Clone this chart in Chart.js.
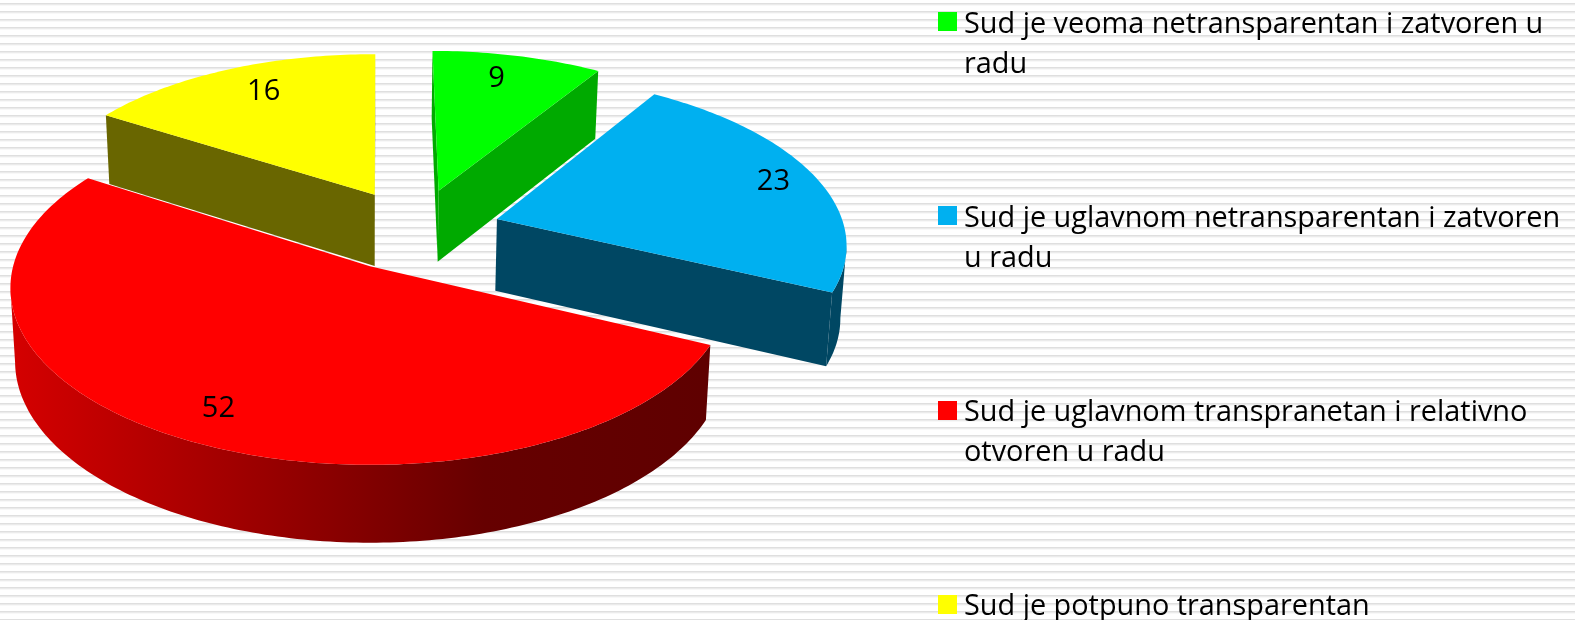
<!DOCTYPE html>
<html lang="sr">
<head>
  <meta charset="UTF-8" />
  <title>Transparentnost suda</title>
  <script src="https://cdn.jsdelivr.net/npm/chart.js"></script>
  <style>
    html, body {
      margin: 0;
      height: 100%;
      overflow: hidden;
      background-color: #fff;
      background-image: repeating-linear-gradient(to bottom,
        #fff 0, #fff 3px, #dfdfdf 3px, #dfdfdf 4px, #ebebeb 4px, #ebebeb 5px, #f8f8f8 5px, #f8f8f8 6px, #fff 6px, #fff 8px);
    }
    #pie { position: absolute; left: 0; top: 0; }
    .key { position: absolute; left: 938px; width: 19px; height: 19px; }
    .txt {
      position: absolute; left: 964px; white-space: nowrap;
      font-family: 'Open Sans', sans-serif; font-size: 28.85px; line-height: 40px; color: #000;
    }
  </style>
</head>
<body>
  <canvas id="pie" width="1575" height="620"></canvas>
  <div id="legend"></div>

  <script>
    const labels = [
      ['Sud je veoma netransparentan i zatvoren u', 'radu'],
      ['Sud je uglavnom netransparentan i zatvoren', 'u radu'],
      ['Sud je uglavnom transpranetan i relativno', 'otvoren u radu'],
      ['Sud je potpuno transparentan']
    ];
    const values = [9, 23, 52, 16];
    const topColors = ['#00ff00', '#00b0f0', '#ff0000', '#ffff00'];
    const sideColors = ['#00aa00', '#004763', '#660000', '#696600'];

    // how far each slice was pulled out, in pie radii
    const pullU = [0.203, 0.368, 0, 0.014];
    const pullV = [-0.25, -0.073, 0.207, -0.224];

    const legendY = [12, 206, 401, 595];
    const textY = [2, 196, 390, 584];
    const nudgeX = [-8, 15, 4, 12];
    const nudgeY = [1, -1, 5, 1];

    // camera
    const cx = 370, cy = 231, radX = 348, radY = 165.7, persp = 0.12;
    const depth = 72, shrink = 0.013, labelR = 0.82;

    function project(u, v) {
      const p = 1 / (1 - persp * v);
      return { x: cx + radX * u * p, y: cy + radY * v * p, p };
    }
    function drop(pt) {
      return { x: cx + (pt.x - cx) * (1 - shrink), y: pt.y + depth * Math.sqrt(pt.p) };
    }
    function fillPoly(ctx, pts, color) {
      ctx.beginPath();
      pts.forEach((pt, i) => i ? ctx.lineTo(pt.x, pt.y) : ctx.moveTo(pt.x, pt.y));
      ctx.closePath();
      ctx.fillStyle = color;
      ctx.fill();
    }

    const pie3d = {
      id: 'pie3d',
      beforeDatasetDraw(chart, args) {
        const ctx = chart.ctx;
        const arcs = args.meta.data;
        const order = arcs.map((a, i) => i).sort((a, b) => pullV[a] - pullV[b]);

        order.forEach(i => {
          const arc = arcs[i];
          const apex = project(pullU[i], pullV[i]);
          const rim = [];
          const steps = Math.ceil((arc.endAngle - arc.startAngle) * 60);
          for (let s = 0; s <= steps; s++) {
            const a = arc.startAngle + (arc.endAngle - arc.startAngle) * s / steps;
            rim.push(project(pullU[i] + Math.cos(a), pullV[i] + Math.sin(a)));
          }

          // side faces that look at the viewer run leftwards on the outline
          if (rim[0].x < apex.x) fillPoly(ctx, [apex, rim[0], drop(rim[0]), drop(apex)], sideColors[i]);
          const last = rim[rim.length - 1];
          if (apex.x < last.x) fillPoly(ctx, [last, apex, drop(apex), drop(last)], sideColors[i]);

          const front = rim.filter((pt, s) => s < rim.length - 1 && rim[s + 1].x < pt.x);
          if (front.length) {
            front.push(rim[rim.indexOf(front[front.length - 1]) + 1]);
            let fill = sideColors[i];
            if (i === 2) {
              fill = ctx.createLinearGradient(15, 0, 705, 0);
              fill.addColorStop(0, '#d40000');
              fill.addColorStop(0.68, '#660000');
              fill.addColorStop(1, '#5f0000');
            }
            fillPoly(ctx, front.concat(front.slice().reverse().map(drop)), fill);
          }

          fillPoly(ctx, [apex].concat(rim), arc.options.backgroundColor);

          const mid = (arc.startAngle + arc.endAngle) / 2;
          const spot = project(pullU[i] + labelR * Math.cos(mid), pullV[i] + labelR * Math.sin(mid));
          ctx.fillStyle = '#000';
          ctx.font = "29px 'Open Sans', sans-serif";
          ctx.textAlign = 'center';
          ctx.textBaseline = 'middle';
          ctx.fillText(values[i], spot.x + nudgeX[i], spot.y + nudgeY[i]);
        });
        return false;
      }
    };

    new Chart(document.getElementById('pie'), {
      type: 'pie',
      data: {
        labels: labels.map(l => l.join(' ')),
        datasets: [{ data: values, backgroundColor: topColors, borderWidth: 0 }]
      },
      options: {
        responsive: false,
        animation: false,
        events: [],
        rotation: 0.2,
        plugins: { legend: { display: false }, tooltip: { enabled: false } }
      },
      plugins: [pie3d]
    });

    const legend = document.getElementById('legend');
    labels.forEach((lines, i) => {
      const key = document.createElement('div');
      key.className = 'key';
      key.style.top = legendY[i] + 'px';
      key.style.background = topColors[i];
      legend.appendChild(key);
      lines.forEach((line, n) => {
        const t = document.createElement('div');
        t.className = 'txt';
        t.style.top = (textY[i] + n * 40) + 'px';
        t.textContent = line;
        legend.appendChild(t);
      });
    });
  </script>
</body>
</html>
